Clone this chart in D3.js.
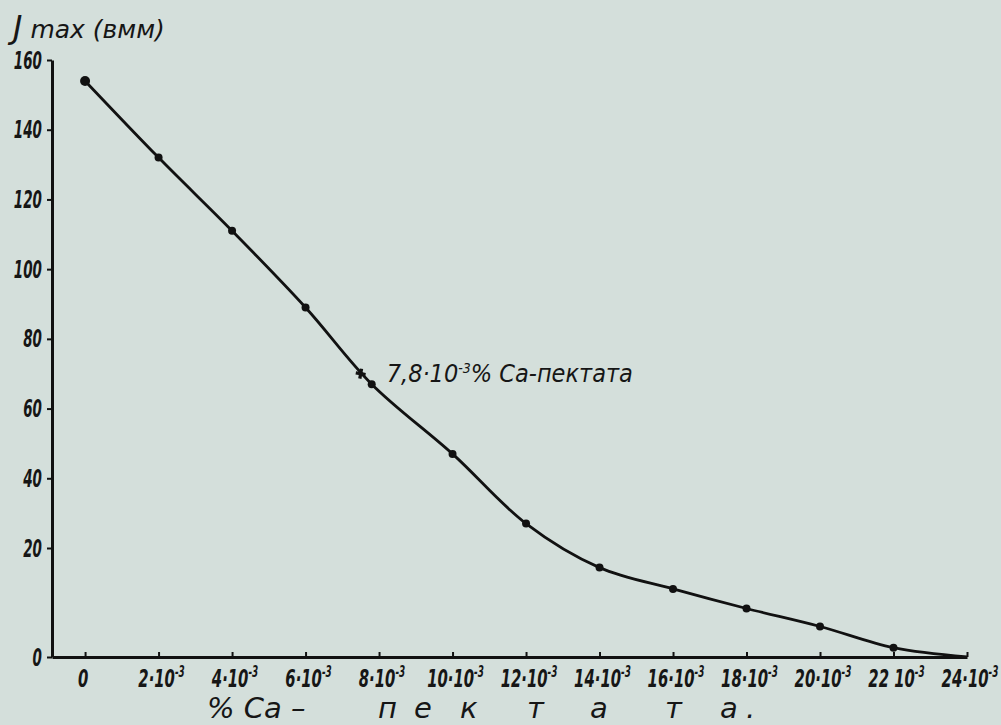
<!DOCTYPE html>
<html>
<head>
<meta charset="utf-8">
<script src="https://cdn.jsdelivr.net/npm/d3@7"></script>
<style>
body { margin: 0; background: #d4dfdb; }
text { fill: #161616; }
</style>
</head>
<body>
<svg id="chart"></svg>
<script>
// values (x in units of 10^-3 %)
var caPercent = [0, 2, 4, 6, 7.8, 10, 12, 14, 16, 18, 20, 22, 24];
var jMax = [154, 132, 111, 89, 67, 47, 27, 16.4, 12.5, 8.9, 5.6, 1.7, 0];
var xTicks = [0, 2, 4, 6, 8, 10, 12, 14, 16, 18, 20, 22, 24];
var xTickLabels = ["0", "2·10", "4·10", "6·10", "8·10", "10·10", "12·10", "14·10",
                   "16·10", "18·10", "20·10", "22 10", "24·10"];
var yTicks = [0, 20, 40, 60, 80, 100, 120, 140, 160];
var crossMark = [7.5, 70];   // the "+" next to the annotation
var titleLetters = ["п", "е", "к", "т", "а", "т", "а", "."];

var width = 1001, height = 725;
var narrow = "'DejaVu Sans Condensed','DejaVu Sans',sans-serif";
var plain = "'DejaVu Sans',sans-serif";
var squeeze = 0.6;   // the hand lettering is very narrow

var svg = d3.select("#chart")
  .attr("width", width)
  .attr("height", height);

svg.append("rect")
  .attr("width", width)
  .attr("height", height)
  .attr("fill", "#d4dfdb");

// x scale starts a little left of 0 so the axis line meets the y axis
var x = d3.scaleLinear()
  .domain([-0.9, 24])
  .range([52, 967]);

// hand drawn axis: the step 0..20 is wider than the others
var y = d3.scaleLinear()
  .domain([0, 20, 160])
  .range([657, 548, 60]);

// Y axis
var yAxis = svg.append("g")
  .attr("transform", "translate(" + x(-0.9) + ",0)")
  .call(d3.axisLeft(y).tickValues(yTicks).tickSize(5).tickSizeOuter(0).tickPadding(9));
yAxis.select(".domain").attr("stroke", "#111").attr("stroke-width", 3);
yAxis.selectAll(".tick line").attr("stroke", "#111").attr("stroke-width", 2);
yAxis.selectAll("text")
  .attr("x", -10 / squeeze)
  .attr("transform", "scale(" + squeeze + ",1)")
  .style("font-family", narrow)
  .style("font-size", "25px")
  .style("font-weight", "bold")
  .style("font-style", "italic")
  .attr("fill", "#161616");

// X axis
var xAxis = svg.append("g")
  .attr("transform", "translate(0," + y(0) + ")")
  .call(d3.axisBottom(x).tickValues(xTicks).tickSizeInner(-5).tickSizeOuter(0).tickFormat(""));
xAxis.select(".domain").attr("stroke", "#111").attr("stroke-width", 3);
xAxis.selectAll(".tick line").attr("stroke", "#111").attr("stroke-width", 2);

var xLabels = svg.append("g").selectAll("g")
  .data(xTicks)
  .enter()
  .append("g")
  .attr("transform", function(d) {
    return "translate(" + (x(d) + (d === 0 ? -2 : 3)) + ",687) scale(0.66,1)";
  })
  .append("text")
  .attr("text-anchor", "middle")
  .style("font-family", narrow)
  .style("font-size", "25px")
  .style("font-weight", "bold")
  .style("font-style", "italic");
xLabels.append("tspan")
  .text(function(d, i) { return xTickLabels[i]; });
xLabels.filter(function(d) { return d !== 0; })
  .append("tspan")
  .attr("dy", -10)
  .style("font-size", "15px")
  .text("-3");

// curve
var line = d3.line()
  .x(function(d) { return x(d[0]); })
  .y(function(d) { return y(d[1]); })
  .curve(d3.curveCatmullRom.alpha(0.5));

var pts = caPercent.map(function(c, i) { return [c, jMax[i]]; });

svg.append("path")
  .datum(pts)
  .attr("fill", "none")
  .attr("stroke", "#111")
  .attr("stroke-width", 2.8)
  .attr("d", line);

svg.selectAll("circle.pt")
  .data(pts.slice(0, pts.length - 1))
  .enter()
  .append("circle")
  .attr("class", "pt")
  .attr("cx", function(d) { return x(d[0]); })
  .attr("cy", function(d) { return y(d[1]); })
  .attr("r", function(d, i) { return i === 0 ? 5 : 4; })
  .attr("fill", "#111");

svg.append("path")
  .attr("d", d3.symbol(d3.symbolCross, 55)())
  .attr("transform", "translate(" + x(crossMark[0]) + "," + y(crossMark[1]) + ") rotate(10)")
  .attr("fill", "#111");

// annotation
var note = svg.append("text")
  .attr("x", x(7.8) + 15)
  .attr("y", y(67) - 2)
  .style("font-family", narrow)
  .style("font-size", "25px")
  .style("font-style", "italic");
note.append("tspan").text("7,8·10");
note.append("tspan").attr("dy", -9).style("font-size", "14px").text("-3");
note.append("tspan").attr("dy", 9).text("% Ca-пектата");

// axis titles
var yTitle = svg.append("text")
  .attr("x", 13)
  .attr("y", 38)
  .style("font-family", plain)
  .style("font-size", "25px")
  .style("font-style", "italic");
yTitle.append("tspan").style("font-size", "32px").text("J");
yTitle.append("tspan").text(" max (вмм)");

svg.append("text")
  .attr("x", 207)
  .attr("y", 718)
  .style("font-family", plain)
  .style("font-size", "29px")
  .style("font-style", "italic")
  .text("% Ca –");

// spaced-out letters of "пектата."
var letterX = [378, 414, 460, 527, 590, 665, 720, 746];
svg.append("text")
  .attr("y", 718)
  .style("font-family", plain)
  .style("font-size", "29px")
  .style("font-style", "italic")
  .selectAll("tspan")
  .data(titleLetters)
  .enter()
  .append("tspan")
  .attr("x", function(d, i) { return letterX[i]; })
  .text(function(d) { return d; });
</script>
</body>
</html>
